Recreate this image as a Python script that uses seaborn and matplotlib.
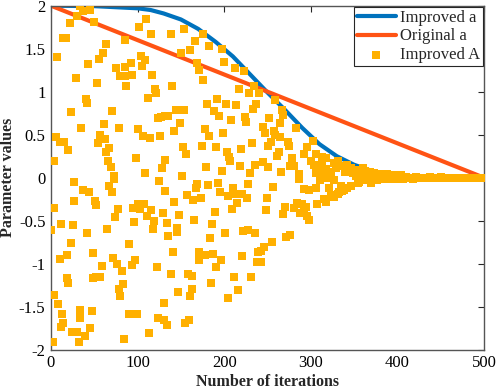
import matplotlib
matplotlib.use('Agg')
import matplotlib.pyplot as plt
import numpy as np
import pandas as pd
import seaborn as sns

# curve values
improved_a_x = [0, 50, 100, 115, 130, 150, 170, 190, 210, 230, 250, 270, 290, 310,
                330, 350, 370, 390, 420, 450, 500]
improved_a_y = [2.0, 1.995, 1.97, 1.95, 1.91, 1.84, 1.73, 1.58, 1.41, 1.20, 0.99,
                0.79, 0.58, 0.39, 0.25, 0.15, 0.08, 0.04, 0.015, 0.005, 0.0]
original_a_x = [0, 500]
original_a_y = [2.0, 0.0]

# scatter of improved A, read point by point
A_x = [34, 37, 45, 30, 22, 50, 14, 17, 7, 64, 60, 55, 43, 29, 53, 102, 110, 116, 86, 104,
       109, 105, 92, 85, 75, 80, 86, 93, 117, 87, 120, 121, 112, 40, 41, 23, 70, 123, 127, 132,
       61, 35, 79, 100, 6, 10, 15, 20, 57, 62, 54, 67, 63, 106, 114, 126, 4, 66, 69, 98,
       132, 128, 108, 73,
       27, 73, 37, 44, 67, 70, 125, 132, 27, 51, 52, 4, 77, 74, 95, 100, 103, 107, 115, 111,
       119, 129, 96, 118, 134, 0, 11, 25, 42, 65, 135, 23, 90, 10, 18, 49, 72, 76, 94, 97,
       59, 82, 122, 19, 20, 48, 52, 57, 83, 78, 80, 3, 8, 131, 13, 14, 11, 33, 34, 47,
       90, 99, 24, 30, 45, 39, 2, 32, 84, 113, 124, 131, 134,
       139, 154, 175, 166, 183, 198, 150, 160, 200, 169, 171, 176, 213, 223, 140, 217, 229, 234, 240, 192,
       180, 202, 214, 144, 153, 188, 194, 237, 233, 259, 267, 268, 135, 149, 208, 224, 225, 252, 264, 142,
       178, 182, 199, 245, 247, 257, 259, 264, 152, 156, 174, 191, 203, 206, 207, 219, 232, 251, 254, 261,
       263, 179, 197, 218, 230, 236, 245, 251, 266, 151,
       168, 167, 181, 193, 195, 210, 204, 213, 221, 226, 228, 256, 157, 164, 173, 142, 215, 209, 249, 248,
       270, 268, 148, 189, 165, 186, 146, 145, 184, 201, 222, 227, 235, 255, 271, 141, 171, 178, 171, 187,
       196, 190, 220, 239, 243, 246, 238, 242, 138, 158, 163, 185, 211, 231, 216, 163, 147, 160, 204, 159,
       155,
       283, 274, 275, 296, 303, 306, 292, 313, 317, 278, 276, 280, 300, 304, 309, 313, 327, 331, 334, 329,
       318, 323, 315, 286, 306, 342, 346, 349, 340, 354, 360, 363, 368, 373, 381, 388, 396, 404,
       286, 311, 320, 327, 335, 338, 346, 354, 361, 369, 377, 385, 392, 400,
       292, 298, 306, 321, 323, 327, 333, 331, 342, 336,
       281, 284, 290, 292, 294, 288, 296, 298, 307, 315, 317, 276,
       352, 356, 358, 362, 366, 370, 372, 376, 378, 382, 384, 388, 390, 394, 396, 398,
       402, 406, 410, 414, 418, 422, 426, 430, 434, 438, 442, 446, 450, 454, 458, 462,
       466, 470, 474, 478, 482, 486, 490, 494, 498, 500]
A_y = [2.0, 1.94, 1.95, 1.88, 1.80, 1.81, 1.62, 1.63, 1.40, 1.55, 1.45, 1.38, 1.32, 1.16, 1.10, 1.75, 1.85, 1.67, 1.60, 1.42,
       1.37, 1.30, 1.33, 1.29, 1.28, 1.18, 1.18, 1.20, 1.20, 1.07, 1.03, 0.99, 0.93, 0.91, 0.87, 0.76, 0.78, 0.69, 0.71, 0.72,
       0.62, 0.58, 0.58, 0.57, 0.47, 0.41, 0.41, 0.32, 0.50, 0.45, 0.40, 0.35, 0.30, 0.48, 0.46, 0.49, 0.20, 0.20, 0.12, 0.23,
       0.21, 0.11, 0.055, 0.02,
       -0.05, -0.01, -0.14, -0.17, -0.10, -0.17, -0.04, -0.16, -0.27, -0.27, -0.32, -0.35, -0.36, -0.46, -0.35, -0.31, -0.36, -0.30, -0.37, -0.44,
       -0.50, -0.41, -0.51, -0.60, -0.53, -0.61, -0.54, -0.55, -0.64, -0.60, -0.68, -0.76, -0.77, -0.94, -0.90, -0.87, -0.93, -1.00, -1.01, -0.96,
       -1.03, -1.08, -1.04, -1.17, -1.22, -1.17, -1.16, -1.15, -1.24, -1.29, -1.38, -1.36, -1.47, -1.46, -1.58, -1.69, -1.74, -1.54, -1.63, -1.55,
       -1.58, -1.58, -1.79, -1.79, -1.75, -1.84, -1.91, -1.91, -1.88, -1.80, -1.63, -1.65, -1.71,
       1.67, 1.73, 1.67, 1.59, 1.53, 1.50, 1.45, 1.48, 1.35, 1.33, 1.25, 1.14, 1.27, 1.24, 1.07, 1.03, 0.99, 1.07, 0.98, 0.92,
       0.86, 0.86, 0.85, 0.79, 0.79, 0.78, 0.72, 0.86, 0.80, 0.90, 0.79, 0.73, 0.72, 0.64, 0.67, 0.71, 0.65, 0.70, 0.64, 0.54,
       0.57, 0.48, 0.52, 0.59, 0.52, 0.54, 0.50, 0.47, 0.36, 0.27, 0.37, 0.36, 0.30, 0.24, 0.20, 0.33, 0.40, 0.37, 0.42, 0.25,
       0.30, 0.13, 0.08, 0.14, 0.06, 0.15, 0.18, 0.13, 0.07, 0.02,
       -0.07, -0.12, -0.08, -0.06, -0.17, -0.12, -0.21, -0.19, -0.19, -0.24, -0.07, -0.11, -0.20, -0.26, -0.24, -0.28, -0.29, -0.36, -0.24, -0.38,
       -0.34, -0.42, -0.43, -0.40, -0.49, -0.54, -0.59, -0.63, -0.70, -0.64, -0.62, -0.61, -0.64, -0.75, -0.69, -0.86, -0.86, -0.90, -0.96, -0.89,
       -0.96, -1.04, -0.91, -0.86, -0.85, -0.81, -0.98, -0.98, -1.12, -1.12, -1.14, -1.23, -1.15, -1.15, -1.30, -1.29, -1.33, -1.38, -1.40, -1.65,
       -1.69,
       0.58, 0.41, 0.37, 0.36, 0.43, 0.27, 0.27, 0.24, 0.23, 0.23, 0.14, 0.14, 0.20, 0.15, 0.14, 0.17, 0.17, 0.20, 0.14, 0.11,
       0.10, 0.07, 0.05, 0.04, 0.05, 0.15, 0.11, 0.05, 0.07, 0.09, 0.11, 0.08, 0.07, 0.05, 0.04, 0.04, 0.03, 0.03,
       -0.01, -0.03, 0.0, -0.03, -0.10, -0.14, -0.10, -0.06, -0.02, -0.04, -0.01, 0.0, -0.01, 0.0,
       -0.13, -0.14, -0.12, -0.12, -0.20, -0.22, -0.17, -0.19, -0.12, -0.15,
       -0.35, -0.29, -0.31, -0.37, -0.34, -0.41, -0.45, -0.49, -0.31, -0.25, -0.28, -0.67,
       0.02, -0.05, 0.06, -0.03, 0.04, -0.06, 0.02, -0.03, 0.03, -0.02, 0.02, -0.01, 0.02, -0.02, 0.01, -0.01,
       0.01, -0.01, 0.01, 0.0, -0.01, 0.01, 0.0, 0.0, -0.005, 0.005, 0.0, 0.0, 0.005, -0.005, 0.0, 0.0,
       0.0, 0.0, 0.0, 0.0, 0.0, 0.0, 0.0, 0.0, 0.0, 0.0]

sns.set_theme(style='white')
plt.rcParams['font.family'] = ['Liberation Serif', 'DejaVu Serif']
plt.rcParams['axes.unicode_minus'] = False

fig = plt.figure(figsize=(4.98, 3.91), dpi=100)
ax = fig.add_axes([0.1024, 0.1056, 0.8696, 0.8798])

sns.lineplot(x=improved_a_x, y=improved_a_y, color='#0072BD', linewidth=3,
             label='Improved a', ax=ax)
sns.lineplot(x=original_a_x, y=original_a_y, color='#FF5314', linewidth=3,
             label='Original a', ax=ax)
sns.scatterplot(x=A_x, y=A_y, color='#FFB000', marker='s', s=30, linewidth=0,
                label='Improved A', ax=ax, zorder=3)

ax.set_xlim(0, 500)
ax.set_ylim(-2, 2)
ax.set_xticks([0, 100, 200, 300, 400, 500])
yt = [-2, -1.5, -1, -0.5, 0, 0.5, 1, 1.5, 2]
ax.set_yticks(yt)
ax.set_yticklabels(['-2', '-1.5', '-1', '-0.5', '0', '0.5', '1', '1.5', '2'])
ax.tick_params(direction='in', length=4, width=0.8, top=True, right=True,
               labelsize=12, colors='#262626', labelcolor='black', pad=4)
for sp in ax.spines.values():
    sp.set_color('#555555')
    sp.set_linewidth(1)

ax.set_xlabel('Number of iterations', fontsize=11.5, fontweight='bold', labelpad=2)
ax.set_ylabel('Parameter values', fontsize=11.5, fontweight='bold', labelpad=2)

leg = ax.legend(loc='upper right', fontsize=12, frameon=True, fancybox=False,
                edgecolor='#262626', framealpha=1, borderaxespad=0.05,
                handlelength=2.3, labelspacing=0.15, borderpad=0.2,
                handletextpad=0.25, markerscale=1.0)
leg.get_frame().set_linewidth(0.8)

fig.savefig('out.png', dpi=100)
